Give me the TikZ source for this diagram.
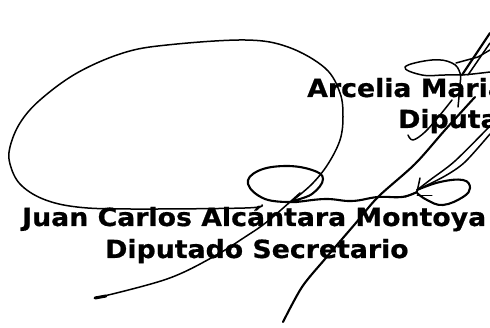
\documentclass[tikz,border=0pt]{standalone}
\usepackage{fontspec}
\setmainfont{DejaVu Sans}[BoldFeatures={FakeBold=0.6}]
\tikzset{
  sigtext/.style={inner sep=0pt,anchor=base west,xscale=1.07,font=\fontsize{25}{27}\selectfont\bfseries,text=black},
  pen/.style={draw=black,line width=1.5pt,line cap=round,line join=round},
  penthick/.style={pen,line width=2.1pt},
  penthin/.style={pen,line width=1pt}
}
\begin{document}
\begin{tikzpicture}[x=1pt,y=-1pt]
\useasboundingbox (0,0) rectangle (490,328);
\clip (0,0) rectangle (490,328);
\fill[white] (0,0) rectangle (490,328);
\node[sigtext] (t1) at (307,97) {Arcelia Maria};
\node[sigtext] (t2) at (398,128) {Diputa};
\node[sigtext] (t3) at (22,226) {Juan Carlos Alcántara Montoya};
\node[sigtext] (t4) at (105,258) {Diputado Secretario};
% large loop
\draw[pen] plot[smooth,tension=.6] coordinates {(292,201)(312,184)(328,164)(340,140)(343,117)(340,93)(325,68)(288,47)(245,40)(167,45)(123,53)(77,73)(40,100)(20,123)(10,147)(10,164)(20,184)(43,199)(77,207)(130,209)(245,208)(262,205)};
% small loop and flourish
\draw[penthick] plot[smooth,tension=.7] coordinates {(292,202)(265,199)(248,184)(258,171)(285,166)(312,170)(323,179)(312,194)(292,202)(325,199)(352,201)(378,197)(402,197)(417,192)};
% right loop
\draw[penthick] plot[smooth,tension=.7] coordinates {(417,190)(440,182)(463,180)(470,188)(463,197)(443,205)(427,200)(417,193)};
\draw[pen] (420,178) -- (417,192) -- (405,197);
\draw[penthin] (417,196) -- (432,196);
% lower stroke
\draw[pen] plot[smooth,tension=.6] coordinates {(300,193)(268,221)(245,237)(213,257)(167,279)(100,297)};
\draw[penthick,line width=3pt] (95,298) -- (106,296);
% long diagonal
\draw[penthick] plot[smooth,tension=.5] coordinates {(475,97)(445,130)(415,164)(378,197)(355,224)(325,259)(302,287)(283,322)};
% right double stroke
\draw[pen] plot[smooth,tension=.5] coordinates {(490,126)(455,161)(430,180)(417,190)};
\draw[pen] plot[smooth,tension=.5] coordinates {(490,134)(465,162)(445,176)(417,190)};
% hook
\draw[pen] plot[smooth,tension=.6] coordinates {(408,135)(413,140)(425,132)(440,115)(452,100)};
% top loop
\draw[pen] plot[smooth,tension=.7] coordinates {(458,107)(460,85)(460,73)(452,63)(432,60)(405,67)(422,75)(445,75)(462,75)(490,72)};
\draw[pen] (456,63) -- (478,57) -- (490,50);
\draw[penthick] (462,75) -- (490,33);
\draw[pen] (468,75) -- (490,43);
\end{tikzpicture}
\end{document}
